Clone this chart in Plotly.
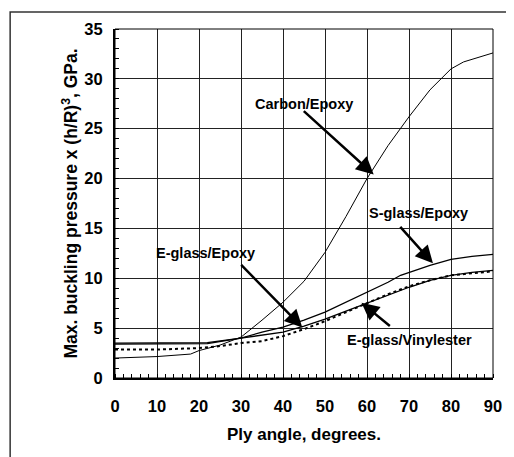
import plotly.graph_objects as go

angle = [0, 10, 18, 20, 25, 30, 35, 40, 45, 50, 55, 60, 65, 70, 75, 80, 83, 90]
carbon = [2.0, 2.15, 2.4, 2.75, 3.3, 4.1, 5.8, 7.6, 9.7, 12.6, 16.2, 20.0, 23.3, 26.2, 28.9, 31.0, 31.7, 32.6]

angle_s = [0, 10, 22, 30, 35, 40, 45, 50, 55, 60, 65, 68, 70, 75, 80, 85, 90]
sglass = [3.5, 3.5, 3.55, 4.0, 4.6, 5.1, 5.8, 6.6, 7.6, 8.6, 9.6, 10.3, 10.6, 11.3, 11.9, 12.2, 12.4]

angle_e = [0, 10, 22, 30, 35, 40, 45, 50, 55, 60, 65, 70, 75, 80, 85, 90]
eglass = [3.4, 3.4, 3.45, 4.0, 4.3, 4.6, 5.2, 5.9, 6.7, 7.5, 8.3, 9.1, 9.8, 10.3, 10.6, 10.8]

angle_v = [0, 10, 20, 25, 30, 35, 40, 45, 50, 55, 60, 65, 70, 75, 80, 85, 90]
vinyl = [2.85, 2.85, 3.0, 3.2, 3.5, 3.7, 4.2, 4.9, 5.7, 6.6, 7.5, 8.4, 9.2, 9.8, 10.3, 10.5, 10.7]

x_ticks = [0, 10, 20, 30, 40, 50, 60, 70, 80, 90]
y_ticks = [0, 5, 10, 15, 20, 25, 30, 35]

FAM = "Liberation Sans, Arial, sans-serif"

fig = go.Figure()
fig.add_trace(go.Scatter(x=angle, y=carbon, mode="lines", line=dict(color="black", width=1)))
fig.add_trace(go.Scatter(x=angle_s, y=sglass, mode="lines", line=dict(color="black", width=1.3)))
fig.add_trace(go.Scatter(x=angle_e, y=eglass, mode="lines", line=dict(color="black", width=1.3)))
fig.add_trace(go.Scatter(x=angle_v, y=vinyl, mode="lines", line=dict(color="black", width=2, dash="dot")))

labels = [
    # text, text x, text y (data), arrow tail (ax, ay), arrow head (x, y)
    ("Carbon/Epoxy", 45.0, 27.5, 44.6, 26.9, 61.6, 20.4),
    ("S-glass/Epoxy", 72.2, 16.5, 67.6, 15.3, 75.7, 11.5),
    ("E-glass/Epoxy", 21.5, 12.5, 29.7, 11.5, 44.6, 5.07),
    ("E-glass/Vinylester", 70.0, 3.8, 65.8, 5.1, 58.7, 7.55),
]
for txt, tx, ty, ax, ay, hx, hy in labels:
    fig.add_annotation(x=tx, y=ty, text="<b>" + txt + "</b>", showarrow=False,
                       font=dict(family=FAM, size=14.5, color="black"))
    fig.add_annotation(x=hx, y=hy, ax=ax, ay=ay, axref="x", ayref="y", text="",
                       showarrow=True, arrowhead=2, arrowsize=1.4, arrowwidth=2.5, arrowcolor="black")

# outer frame of the picture
fig.add_shape(type="rect", xref="paper", yref="paper", x0=-0.2774, x1=1.0366, y0=-0.3, y1=1.049,
              line=dict(color="#333", width=1.5), layer="below")

fig.update_layout(
    width=506, height=449,
    margin=dict(l=107, r=16, t=18, b=79),
    paper_bgcolor="white", plot_bgcolor="white",
    showlegend=False,
    font=dict(family=FAM, size=15, color="black"),
)
fig.update_xaxes(
    range=[0, 90], tickvals=x_ticks, ticktext=["<b>%d</b>" % v for v in x_ticks],
    tickfont=dict(size=16.5),
    showgrid=True, gridcolor="#222", gridwidth=1,
    showline=True, linecolor="black", linewidth=2, mirror=False,
    ticks="", ticklabelstandoff=12,
    minor=dict(dtick=2, ticks="inside", ticklen=4, tickcolor="black", showgrid=False),
    title=dict(text="<b>Ply angle, degrees.</b>", font=dict(size=17), standoff=14),
    zeroline=False,
)
fig.update_yaxes(
    range=[0, 35], tickvals=y_ticks, ticktext=["<b>%d</b>" % v for v in y_ticks],
    tickfont=dict(size=16.5),
    showgrid=True, gridcolor="#222", gridwidth=1,
    showline=True, linecolor="black", linewidth=2, mirror=False,
    ticks="", ticklabelstandoff=7,
    minor=dict(dtick=1, ticks="inside", ticklen=4, tickcolor="black", showgrid=False),
    title=dict(text="<b>Max. buckling pressure x (h/R)<sup>3</sup>, GPa.</b>", font=dict(size=17.5), standoff=2),
    zeroline=False,
)
fig.add_shape(type="rect", xref="paper", yref="paper", x0=0, x1=1, y0=0, y1=1,
              line=dict(color="black", width=1))
fig.write_html("out.html")
